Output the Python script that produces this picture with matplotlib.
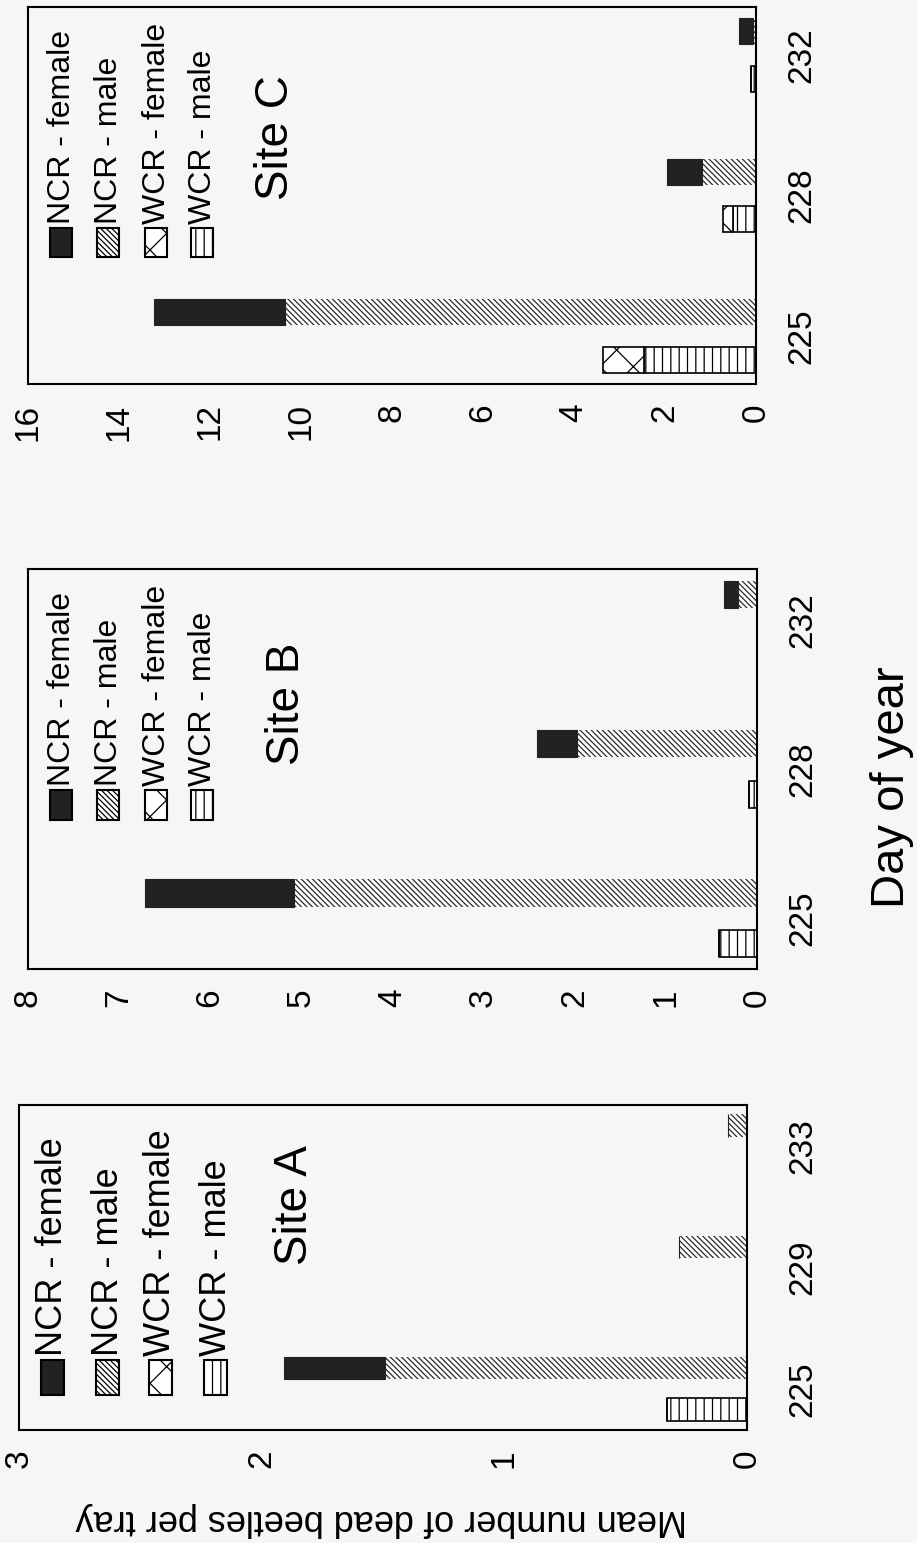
import numpy as np
import matplotlib
matplotlib.use('Agg')
import matplotlib.pyplot as plt
from matplotlib.patches import Rectangle

plt.rcParams['font.family'] = ['Liberation Sans', 'DejaVu Sans']
plt.rcParams['hatch.linewidth'] = 0.9

series = ['NCR - female', 'NCR - male', 'WCR - female', 'WCR - male']

days_a = ['225', '229', '233']
ncr_f_a = [0.42, 0.0, 0.0]
ncr_m_a = [1.49, 0.28, 0.08]
wcr_f_a = [0.0, 0.0, 0.0]
wcr_m_a = [0.33, 0.0, 0.0]

days_b = ['225', '228', '232']
ncr_f_b = [1.64, 0.44, 0.15]
ncr_m_b = [5.08, 1.97, 0.21]
wcr_f_b = [0.0, 0.0, 0.0]
wcr_m_b = [0.42, 0.09, 0.0]

days_c = ['225', '228', '232']
ncr_f_c = [2.88, 0.77, 0.30]
ncr_m_c = [10.35, 1.19, 0.07]
wcr_f_c = [0.90, 0.23, 0.0]
wcr_m_c = [2.46, 0.50, 0.11]

W, H = 917, 1543
BG = '#f6f6f4'
fig = plt.figure(figsize=(W / 100, H / 100), dpi=100, facecolor=BG)


def fx(x):
    return x / W


def fy(y):
    return 1 - y / H


# style of each series (fill, hatch, edge width)
styles = {
    'NCR - female': dict(color='#222222', edgecolor='#222222', hatch=None, lw=0.8),
    'NCR - male': dict(color='white', edgecolor='#2a2a2a', hatch='\\\\\\\\\\\\', lw=0),
    'WCR - female': dict(color='white', edgecolor='black', hatch='x', lw=1.2),
    'WCR - male': dict(color='white', edgecolor='black', hatch='||', lw=1.2),
}


def panel(box, vmax, vstep, days, ncr_f, ncr_m, wcr_f, wcr_m, site, site_xy,
          leg_cols, leg_bottom, leg_size, fs_leg, fs_tick, ypad):
    x0, y0, x1, y1 = box
    ax = fig.add_axes([fx(x0), fy(y1), (x1 - x0) / W, (y1 - y0) / H])
    ax.set_facecolor(BG)
    pos = np.arange(len(days))
    off, bw = 0.17, 0.185

    def bar(y, vals, left, name):
        st = styles[name]
        ax.barh(y, vals, left=left, height=bw, color=st['color'],
                edgecolor=st['edgecolor'], hatch=st['hatch'], linewidth=st['lw'])

    bar(pos - off, wcr_m, 0, 'WCR - male')
    bar(pos - off, wcr_f, wcr_m, 'WCR - female')
    bar(pos + off, ncr_m, 0, 'NCR - male')
    bar(pos + off, ncr_f, ncr_m, 'NCR - female')

    ax.set_xlim(vmax, 0)
    ax.set_ylim(-0.34, len(days) - 1 + 0.34)
    ticks = np.arange(0, vmax + 0.01, vstep)
    ax.set_xticks(ticks)
    ax.set_xticklabels([f'{t:g}' for t in ticks], rotation=90, fontsize=fs_tick)
    ax.set_yticks(pos)
    ax.set_yticklabels(days, rotation=90, va='center', fontsize=fs_tick)
    ax.yaxis.tick_right()
    ax.tick_params(axis='x', length=0, pad=14)
    ax.tick_params(axis='y', length=0, pad=ypad)
    for s in ax.spines.values():
        s.set_linewidth(1.5)

    fig.text(fx(site_xy[0]), fy(site_xy[1]), site, rotation=90,
             ha='center', va='center', fontsize=33)

    pw, ph = leg_size
    for cx, name in zip(leg_cols, series):
        st = styles[name]
        fig.add_artist(Rectangle((fx(cx - pw / 2), fy(leg_bottom)), pw / W, ph / H,
                                 transform=fig.transFigure, facecolor=st['color'],
                                 edgecolor='black', hatch=st['hatch'], linewidth=1.5))
        fig.text(fx(cx + 1), fy(leg_bottom - ph - 4), name, rotation=90,
                 ha='center', va='bottom', fontsize=fs_leg)
    return ax


panel((28, 7, 756, 384), 16, 2, days_c, ncr_f_c, ncr_m_c, wcr_f_c, wcr_m_c,
      'Site C', (276, 137), [61, 108, 156, 202], 257, (22, 29), 23, 24, 22)
panel((28, 569, 757, 969), 8, 1, days_b, ncr_f_b, ncr_m_b, wcr_f_b, wcr_m_b,
      'Site B', (287, 704), [61, 108, 156, 202], 820, (22, 30), 23, 24, 22)
panel((19, 1105, 747, 1430), 3, 1, days_a, ncr_f_a, ncr_m_a, wcr_f_a, wcr_m_a,
      'Site A', (295, 1205), [52, 107, 160, 215], 1395, (23, 35), 26, 24, 29)

fig.text(fx(892), fy(787), 'Day of year', rotation=90, ha='center', va='center', fontsize=34)
fig.text(fx(381), fy(1520), 'Mean number of dead beetles per tray', rotation=180,
         ha='center', va='center', fontsize=26)

fig.savefig('out.png', dpi=100, facecolor=BG)
